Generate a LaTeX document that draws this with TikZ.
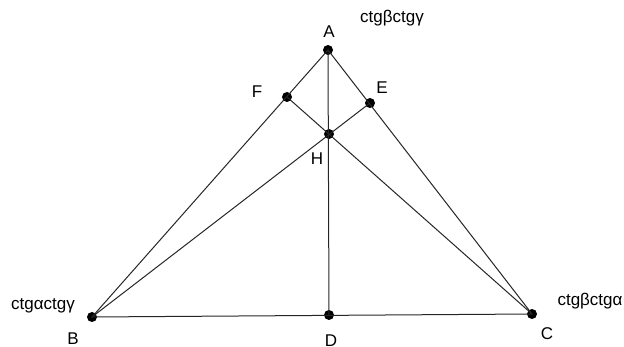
\documentclass[tikz,border=0pt]{standalone}
\usepackage{fontspec}
\setmainfont{Liberation Sans}
\begin{document}
\begin{tikzpicture}[x=1pt,y=-1pt,
  pt/.style={circle,fill=black,inner sep=0pt,minimum size=10pt},
  lbl/.style={inner sep=0pt,font=\fontsize{17}{20}\selectfont},
  seg/.style={line width=1pt,black!85}]
\useasboundingbox (0,0) rectangle (624,347);
\node[pt] (A) at (328,50) {};
\node[pt] (B) at (92,317) {};
\node[pt] (C) at (532,314) {};
\node[pt] (D) at (329,315) {};
\node[pt] (H) at (329,134) {};
\node[pt] (F) at (287,97) {};
\node[pt] (E) at (370,103) {};
\draw[seg] (A.center) -- (B.center) -- (C.center) -- cycle;
\draw[seg] (A.center) -- (D.center);
\draw[seg] (B.center) -- (E.center);
\draw[seg] (C.center) -- (F.center);
\node[lbl] (lA) at (329,32) {A};
\node[lbl] (lF) at (257,92) {F};
\node[lbl] (lE) at (382,88) {E};
\node[lbl] (lH) at (317,159) {H};
\node[lbl] (lB) at (73,339) {B};
\node[lbl] (lC) at (547,334) {C};
\node[lbl] (lD) at (331,341) {D};
\node[lbl] (tA) at (392,18) {ctgβctgγ};
\node[lbl] (tB) at (43,306) {ctgαctgγ};
\node[lbl] (tC) at (590,301) {ctgβctgα};
\end{tikzpicture}
\end{document}
